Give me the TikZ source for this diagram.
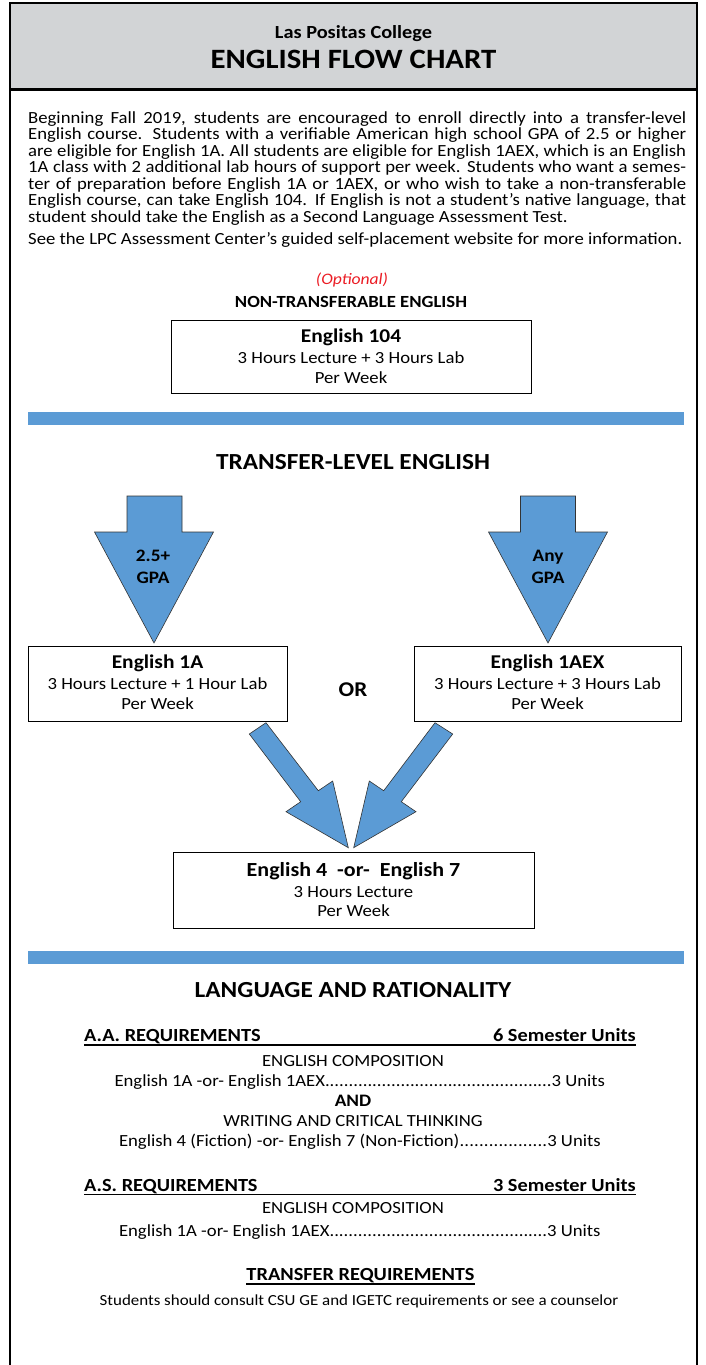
\documentclass[tikz,border=0pt]{standalone}
\usepackage{fontspec}
\usetikzlibrary{calc}
\setmainfont{Carlito}[FakeStretch=1.1]
\definecolor{hdrgray}{RGB}{210,212,214}
\definecolor{barblue}{RGB}{91,155,213}
\definecolor{optred}{RGB}{235,28,36}
\newcommand\setfs[2]{\fontsize{#1}{#2}\selectfont}
\tikzset{
  frame/.style={line width=2.5pt,draw=black},
  coursebox/.style={draw=black,line width=0.8pt,fill=white,inner sep=0pt},
  blockarrow/.style={fill=barblue,draw=black!80,line width=0.6pt,line join=miter},
  txt/.style={inner sep=0pt,anchor=base,font=\setfs{17}{18}},
  boldtxt/.style={inner sep=0pt,anchor=base,font=\setfs{17.5}{19}\bfseries},
  boxtitle/.style={inner sep=0pt,anchor=base,font=\setfs{19.5}{21}\bfseries},
  reqhead/.style={inner sep=0pt,anchor=base,font=\setfs{18.5}{20}\bfseries},
  headtxt/.style={inner sep=0pt,anchor=base,font=\setfs{23}{26}\bfseries},
  reqtxt/.style={inner sep=0pt,anchor=base,font=\setfs{17}{18}},
}
\begin{document}
\begin{tikzpicture}[x=1pt,y=-1pt]
\useasboundingbox (0,0) rectangle (705,1365);
% header
\fill[hdrgray] (10,3) rectangle (697,89);
\draw[line width=3pt] (10,89) -- (697,89);
\draw[frame] (10,1366) -- (10,3) -- (697,3) -- (697,1366);
\node[boldtxt,font=\setfs{18.5}{20}\bfseries] (t1) at (353.5,38.5) {Las Positas College};
\node[boldtxt,font=\setfs{28}{30}\bfseries] (t2) at (353.5,68.5) {ENGLISH FLOW CHART};
% intro paragraph
\node[inner sep=0pt,anchor=base west,align=left,font=\setfs{17}{16.5}] (intro) at (28,222) {%
\makebox[658pt][s]{Beginning Fall 2019, students are encouraged to enroll directly into a transfer-level}\\
\makebox[658pt][s]{English course. Students with a verifiable American high school GPA of 2.5 or higher}\\
\makebox[658pt][s]{are eligible for English 1A. All students are eligible for English 1AEX, which is an English}\\
\makebox[658pt][s]{1A class with 2 additional lab hours of support per week. Students who want a semes-}\\
\makebox[658pt][s]{ter of preparation before English 1A or 1AEX, or who wish to take a non-transferable}\\
\makebox[658pt][s]{English course, can take English 104. If English is not a student’s native language, that}\\
student should take the English as a Second Language Assessment Test.};
\node[txt,anchor=base west] (see) at (28,244) {See the LPC Assessment Center’s guided self-placement website for more information.};
% non-transferable
\node[txt,font=\setfs{16}{18}\itshape,text=optred] (opt) at (352,284) {(Optional)};
\node[boldtxt,font=\setfs{17}{18}\bfseries] (nontr) at (351,307) {NON-TRANSFERABLE ENGLISH};
\node[coursebox,minimum width=360pt,minimum height=73pt] (e104) at (351,356.5) {};
\node[boxtitle] (e104a) at (351,342) {English 104};
\node[txt] (e104b) at (351,363) {3 Hours Lecture + 3 Hours Lab};
\node[txt] (e104c) at (351,383) {Per Week};
\fill[barblue] (28,412) rectangle (684,425);
\node[headtxt] (tle) at (353,469) {TRANSFER-LEVEL ENGLISH};
% down arrows
\draw[blockarrow] (127,496) -- (182,496) -- (182,532) -- (213.5,532) -- (154,643) -- (94.5,532) -- (127,532) -- cycle;
\draw[blockarrow] (520.5,496) -- (575.5,496) -- (575.5,532) -- (607.5,532) -- (548,643) -- (488.5,532) -- (520.5,532) -- cycle;
\node[boldtxt] (g1a) at (153,561.5) {2.5+};
\node[boldtxt] (g1b) at (153,583.5) {GPA};
\node[boldtxt] (g2a) at (548,561.5) {Any};
\node[boldtxt] (g2b) at (548,583.5) {GPA};
% level boxes
\node[coursebox,minimum width=259pt,minimum height=75pt] (e1a) at (157.5,683.5) {};
\node[boxtitle] (e1at) at (157.5,668.5) {English 1A};
\node[txt] (e1ab) at (157.5,689.5) {3 Hours Lecture + 1 Hour Lab};
\node[txt] (e1ac) at (157.5,709.5) {Per Week};
\node[coursebox,minimum width=267pt,minimum height=75pt] (e1x) at (547.5,683.5) {};
\node[boxtitle] (e1xt) at (547.5,668.5) {English 1AEX};
\node[txt] (e1xb) at (547.5,689.5) {3 Hours Lecture + 3 Hours Lab};
\node[txt] (e1xc) at (547.5,709.5) {Per Week};
\node[boldtxt,font=\setfs{21}{23}\bfseries] (or) at (353,696) {OR};
% diagonal arrows
\draw[blockarrow] (266,722.7) -- (318.3,790.7) -- (332.7,781) -- (348.3,847.7) -- (286,811.7) -- (300.7,801.7) -- (249.3,734) -- cycle;
\draw[blockarrow] (435,722.7) -- (383.7,790.7) -- (369.3,781) -- (353.7,847.7) -- (416,811.7) -- (401.3,801.7) -- (452.7,734) -- cycle;
\node[coursebox,minimum width=361pt,minimum height=76pt] (e47) at (353.5,890) {};
\node[boxtitle,font=\setfs{20}{22}\bfseries] (e47a) at (353.5,876) {English 4\ \ -or-\ \ English 7};
\node[txt] (e47b) at (353.5,897) {3 Hours Lecture};
\node[txt] (e47c) at (353.5,916) {Per Week};
\fill[barblue] (28,951) rectangle (684,964);
\node[headtxt] (lar) at (353,997) {LANGUAGE AND RATIONALITY};
% requirements
\node[reqhead,anchor=base west] (aa) at (84,1041) {A.A. REQUIREMENTS};
\node[reqhead,anchor=base east] (aau) at (636,1041) {6 Semester Units};
\draw[line width=1.6pt] (84,1045) -- (636,1045);
\node[reqtxt] (aa1) at (353,1066) {ENGLISH COMPOSITION};
\node[reqtxt] (aa2) at (360,1086) {\makebox[491pt]{English 1A -or- English 1AEX\xleaders\hbox{.}\hfill 3 Units}};
\node[boldtxt] (and) at (353,1106) {AND};
\node[reqtxt] (aa3) at (353,1126) {WRITING AND CRITICAL THINKING};
\node[reqtxt] (aa4) at (360,1146) {\makebox[482pt]{English 4 (Fiction) -or- English 7 (Non-Fiction)\xleaders\hbox{.}\hfill 3 Units}};
\node[reqhead,anchor=base west] (as) at (84,1191) {A.S. REQUIREMENTS};
\node[reqhead,anchor=base east] (asu) at (636,1191) {3 Semester Units};
\draw[line width=1.6pt] (84,1194.5) -- (636,1194.5);
\node[reqtxt] (as1) at (353,1213) {ENGLISH COMPOSITION};
\node[reqtxt] (as2) at (360,1236.5) {\makebox[482pt]{English 1A -or- English 1AEX\xleaders\hbox{.}\hfill 3 Units}};
\node[reqhead] (tr) at (360.5,1280.5) {TRANSFER REQUIREMENTS};
\draw[line width=1.4pt] ($(tr.base west)+(0,3.5)$) -- ($(tr.base east)+(0,3.5)$);
\node[txt,font=\setfs{15.4}{17}] (trt) at (359,1305) {Students should consult CSU GE and IGETC requirements or see a counselor};
\end{tikzpicture}
\end{document}
